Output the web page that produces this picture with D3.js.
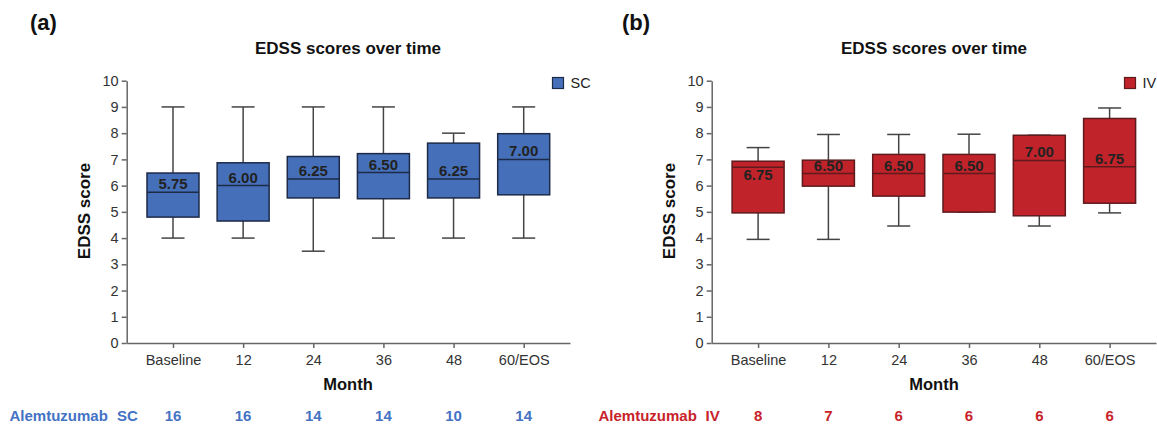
<!DOCTYPE html>
<html>
<head>
<meta charset="utf-8">
<script src="https://cdn.jsdelivr.net/npm/d3@7"></script>
<style>
  body { margin: 0; background: #fff; }
  svg { display: block; font-family: "Liberation Sans", Arial, sans-serif; }
</style>
</head>
<body>
<div id="chart"></div>
<script>
var width = 1157,
    height = 426;

// categories and values
var months = ["Baseline", "12", "24", "36", "48", "60/EOS"];
var yTicks = [0, 1, 2, 3, 4, 5, 6, 7, 8, 9, 10];

// SC arm
var scMin    = [4, 4, 3.5, 4, 4, 4];
var scQ1     = [4.8, 4.65, 5.53, 5.5, 5.53, 5.65];
var scMedian = [5.75, 6, 6.25, 6.5, 6.25, 7];
var scQ3     = [6.48, 6.87, 7.11, 7.22, 7.62, 7.98];
var scMax    = [9, 9, 9, 9, 8, 9];
var scLabels = ["5.75", "6.00", "6.25", "6.50", "6.25", "7.00"];
var scN      = [16, 16, 14, 14, 10, 14];

// IV arm
var ivMin    = [3.95, 3.95, 4.46, 4.99, 4.46, 4.96];
var ivQ1     = [4.96, 5.98, 5.6, 4.99, 4.85, 5.33];
var ivMedian = [6.7, 6.46, 6.46, 6.46, 6.96, 6.72];
var ivQ3     = [6.93, 6.97, 7.19, 7.19, 7.92, 8.56];
var ivMax    = [7.45, 7.95, 7.95, 7.96, 7.92, 8.96];
var ivLabels = ["6.75", "6.50", "6.50", "6.50", "7.00", "6.75"];
var ivN      = [8, 7, 6, 6, 6, 6];

var svg = d3.select("#chart")
    .append("svg")
    .attr("width", width)
    .attr("height", height);

var y = d3.scaleLinear().domain([0, 10]).range([343, 80.7]);

function drawPanel(p) {
    var x = d3.scalePoint().domain(months).range([p.left, p.right]).padding(0.66);
    var g = svg.append("g");

    // panel letter + title
    g.append("text").attr("x", p.letterX).attr("y", 30)
        .attr("font-size", 22).attr("font-weight", "bold").attr("fill", "#111")
        .text(p.letter);
    g.append("text").attr("x", p.titleX).attr("y", 54)
        .attr("text-anchor", "middle").attr("font-size", 17).attr("font-weight", "bold")
        .attr("fill", "#111").text("EDSS scores over time");

    // axes
    var yAxis = g.append("g").attr("transform", "translate(" + p.left + ",0)")
        .call(d3.axisLeft(y).tickValues(yTicks).tickSize(5).tickSizeOuter(0).tickPadding(3));
    var xAxis = g.append("g").attr("transform", "translate(0," + y(0) + ")")
        .call(d3.axisBottom(x).tickSize(5).tickSizeOuter(0).tickPadding(7));
    [yAxis, xAxis].forEach(function (a) {
        a.select(".domain").attr("stroke", "#666").attr("stroke-width", 1.5);
        a.selectAll(".tick line").attr("stroke", "#666").attr("stroke-width", 1.5);
        a.selectAll(".tick text").attr("font-size", 14.5).attr("fill", "#333")
            .attr("font-family", "Liberation Sans, Arial, sans-serif");
    });

    // axis titles
    g.append("text")
        .attr("transform", "translate(" + (p.left - 37) + "," + 211 + ") rotate(-90)")
        .attr("text-anchor", "middle").attr("font-size", 17).attr("font-weight", "bold")
        .attr("fill", "#111").text("EDSS score");
    g.append("text").attr("x", p.titleX).attr("y", 390)
        .attr("text-anchor", "middle").attr("font-size", 16.5).attr("font-weight", "bold")
        .attr("fill", "#111").text("Month");

    // boxes
    var boxW = 52, capW = 23;
    var rows = months.map(function (m, i) {
        return { m: m, min: p.min[i], q1: p.q1[i], med: p.med[i], q3: p.q3[i], max: p.max[i],
                 label: p.labels[i], below: p.labelBelow[i] };
    });
    var box = g.append("g").selectAll("g")
        .data(rows)
        .enter()
        .append("g")
        .attr("transform", function (d) { return "translate(" + x(d.m) + ",0)"; });

    box.append("line").attr("y1", function (d) { return y(d.max); }).attr("y2", function (d) { return y(d.min); })
        .attr("stroke", "#444").attr("stroke-width", 1.5);
    box.append("line").attr("x1", -capW / 2).attr("x2", capW / 2)
        .attr("y1", function (d) { return y(d.max); }).attr("y2", function (d) { return y(d.max); })
        .attr("stroke", "#444").attr("stroke-width", 1.5);
    box.append("line").attr("x1", -capW / 2).attr("x2", capW / 2)
        .attr("y1", function (d) { return y(d.min); }).attr("y2", function (d) { return y(d.min); })
        .attr("stroke", "#444").attr("stroke-width", 1.5);
    box.append("rect")
        .attr("x", -boxW / 2).attr("width", boxW)
        .attr("y", function (d) { return y(d.q3); })
        .attr("height", function (d) { return y(d.q1) - y(d.q3); })
        .attr("fill", p.fill).attr("stroke", p.stroke).attr("stroke-width", 1.5);
    box.append("line").attr("x1", -boxW / 2).attr("x2", boxW / 2)
        .attr("y1", function (d) { return y(d.med); }).attr("y2", function (d) { return y(d.med); })
        .attr("stroke", p.stroke).attr("stroke-width", 1.5);
    box.append("text")
        .attr("y", function (d) { return d.below ? y(d.med) + 13 : y(d.med) - 3; })
        .attr("text-anchor", "middle").attr("font-size", 15).attr("font-weight", "bold")
        .attr("fill", "#222").text(function (d) { return d.label; });

    // legend
    g.append("rect").attr("x", p.legendX).attr("y", 77.5).attr("width", 11).attr("height", 11)
        .attr("fill", p.fill).attr("stroke", p.stroke).attr("stroke-width", 1.2);
    g.append("text").attr("x", p.legendX + 18).attr("y", 88).attr("font-size", 14.5)
        .attr("fill", "#222").text(p.arm);

    // patient counts row
    g.append("text").attr("x", p.countX).attr("y", 421)
        .attr("font-size", 15).attr("font-weight", "bold").attr("fill", p.textColor)
        .text("Alemtuzumab");
    g.append("text").attr("x", p.armX).attr("y", 421)
        .attr("font-size", 15).attr("font-weight", "bold").attr("fill", p.textColor)
        .text(p.arm);
    g.append("g").selectAll("text")
        .data(p.n)
        .enter()
        .append("text")
        .attr("x", function (d, i) { return x(months[i]); })
        .attr("y", 421)
        .attr("text-anchor", "middle").attr("font-size", 15).attr("font-weight", "bold")
        .attr("fill", p.textColor)
        .text(function (d) { return d; });
}

drawPanel({
    letter: "(a)", arm: "SC", left: 126.7, right: 570, titleX: 348, letterX: 30,
    legendX: 552.5, countX: 9.5, armX: 117,
    min: scMin, q1: scQ1, med: scMedian, q3: scQ3, max: scMax, labels: scLabels, n: scN,
    labelBelow: [false, false, false, false, false, false],
    fill: "#4570b9", stroke: "#1d2a48", textColor: "#4472c4"
});

drawPanel({
    letter: "(b)", arm: "IV", left: 711.7, right: 1156, titleX: 934, letterX: 622,
    legendX: 1124.5, countX: 598.5, armX: 705.5,
    min: ivMin, q1: ivQ1, med: ivMedian, q3: ivQ3, max: ivMax, labels: ivLabels, n: ivN,
    labelBelow: [true, false, false, false, false, false],
    fill: "#c0232a", stroke: "#5e1a1c", textColor: "#c8222a"
});
</script>
</body>
</html>
